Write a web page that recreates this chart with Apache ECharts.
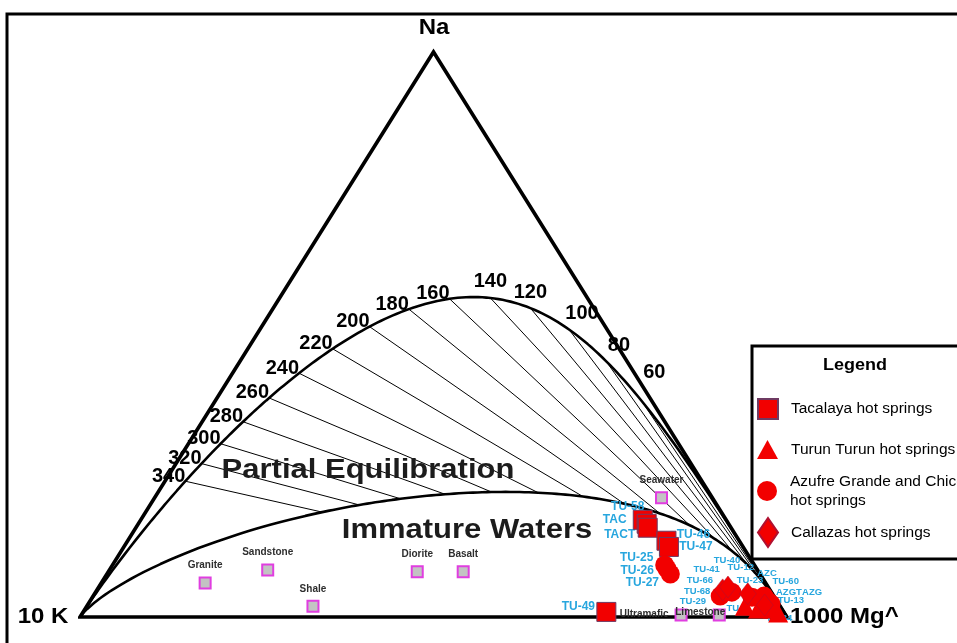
<!DOCTYPE html>
<html>
<head>
<meta charset="utf-8">
<script src="https://cdn.jsdelivr.net/npm/echarts@6/dist/echarts.min.js"></script>
<style>
  html, body { margin: 0; padding: 0; background: #fff; }
  #chart { width: 957px; height: 643px; }
</style>
</head>
<body>
<div id="chart"></div>
<script>
// Relative composition in % of Na/1000, K/100 and sqrt(Mg)

// Isotherms labelled along the full-equilibrium line (°C)
const isothermTemps = [340, 320, 300, 280, 260, 240, 220, 200, 180, 160, 140, 120, 100, 80, 60];

// Tacalaya hot springs
const tacalayaNames = ['TU-58', 'TAC', 'TACT', 'TU-46', 'TU-47', 'TU-49'];
const tacalayaNa = [17.2, 16.5, 15.8, 13.5, 12.4, 0.9];
const tacalayaK  = [11.8, 11.6, 11.8, 10.3, 10.5, 25.1];
const tacalayaMg = [71.0, 71.9, 72.4, 76.2, 77.1, 74.0];

// Turun Turun hot springs
const turunNames = ['TU-29', 'TU-3', 'TU-13', 'TU-34'];
const turunNa = [1.9, 1.4, 1.4, 0.7];
const turunK  = [5.0, 3.4, 1.3, 0.9];
const turunMg = [93.1, 95.2, 97.3, 98.4];

// Azufre Grande and Chico hot springs
const azufreNames = ['TU-25', 'TU-26', 'TU-27', 'TU-68', 'TU-66', 'TU-23', 'AZC', 'AZGT', 'AZG'];
const azufreNa = [9.2, 8.5, 7.6, 3.7, 4.4, 3.5, 3.7, 2.8, 2.3];
const azufreK  = [12.7, 12.7, 12.7, 7.6, 5.6, 3.2, 1.4, 1.3, 1.1];
const azufreMg = [78.1, 78.8, 79.7, 88.7, 90.0, 93.3, 94.9, 95.9, 96.6];

// Callazas hot springs
const callazasNames = ['TU-41', 'TU-40', 'TU-12', 'TU-60'];
const callazasNa = [4.8, 5.3, 4.1, 2.1];
const callazasK  = [6.7, 5.7, 3.5, 2.1];
const callazasMg = [88.5, 89.0, 92.4, 95.8];

// Reference rocks and seawater
const rockNames = ['Granite', 'Sandstone', 'Shale', 'Diorite', 'Basalt', 'Seawater', 'Ultramafic', 'Limestone'];
const rockNa = [6.0, 8.3, 1.9, 8.0, 8.0, 21.1, 0.35, 0.35];
const rockK  = [79.3, 69.3, 66.1, 48.3, 41.8, 7.2, 14.8, 9.4];
const rockMg = [14.7, 22.4, 32.0, 43.7, 50.2, 71.7, 84.8, 90.2];

// ---------------------------------------------------------------------------
// Layout (pixels) — plot area of the triangle
const GRID = { left: 80, right: 170, top: 52, bottom: 26 };
const W = 957, H = 643;
const PX_W = W - GRID.left - GRID.right;   // width of base
const PX_H = H - GRID.top - GRID.bottom;   // height of triangle

// Sample label placement, relative to the marker centre (px)
const sampleLabelOffset = {
  'TU-58': [-15, -13], 'TAC': [-32, -4], 'TACT': [-28, 7], 'TU-46': [27, -6], 'TU-47': [27, 0],
  'TU-49': [-28, -5], 'TU-25': [-28, -7], 'TU-26': [-30, 2], 'TU-27': [-28, 9],
  'TU-68': [-23, -5], 'TU-66': [-32, -12], 'TU-41': [-16, -21], 'TU-40': [-1, -27],
  'TU-12': [-7, -26], 'TU-23': [-2, -17], 'AZC': [3, -23], 'TU-60': [21, -24],
  'AZGT': [21, -9], 'AZG': [41, -12], 'TU-29': [-52, -5], 'TU-3': [-21, -1],
  'TU-13': [18, -9], 'TU-34': [1, 5]
};
const smallLabels = new Set(['TU-68', 'TU-66', 'TU-41', 'TU-40', 'TU-12', 'TU-23', 'AZC', 'TU-60',
  'AZGT', 'AZG', 'TU-29', 'TU-3', 'TU-13', 'TU-34']);
// extra nudge for isotherm labels squeezed against the Na–Mg side
const isothermLabelNudge = { 60: [0, -12] };

const FONT = "'Liberation Sans', Arial, sans-serif";
const RED = '#f20000';
const CYAN = '#27a6de';

// ternary -> cartesian (x: 0..100 along base K→Mg, y: 0..100 toward Na apex)
function ternaryXY(na, k, mg) {
  const s = na + k + mg;
  return [100 * (mg + na / 2) / s, 100 * na / s];
}
function toPx(p) { return [GRID.left + p[0] / 100 * PX_W, H - GRID.bottom - p[1] / 100 * PX_H]; }

// Giggenbach (1988) geothermometers
function naKRatio(t) { return Math.pow(10, 1390 / (t + 273.15) - 1.75); }    // Na/K
function k2MgRatio(t) { return Math.pow(10, 14.0 - 4410 / (t + 273.15)); }   // K^2/Mg
function fromRatios(naK, k2mg) {
  const na = 1000, k = na / naK, mg = k * k / k2mg;
  return ternaryXY(na / 1000, k / 100, Math.sqrt(mg));
}
function fullEquilibrium(t) { return fromRatios(naKRatio(t), k2MgRatio(t)); }
// boundary of immature waters: maturity index 0.315·log(K²/Mg) − log(K/Na) = 2.0
function immatureBoundary(t) {
  const naK = naKRatio(t);
  const lkn = -Math.log10(naK);
  return fromRatios(naK, Math.pow(10, (2.0 + lkn) / 0.315));
}

const cornerK = ternaryXY(0, 100, 0);
const cornerMg = ternaryXY(0, 0, 100);
const cornerNa = ternaryXY(100, 0, 0);
const baseMid = [(cornerK[0] + cornerMg[0]) / 2, 0];

// temperatures used to trace the two curves
const traceTemps = [];
for (let t = 6000; t > 1000; t -= 250) traceTemps.push(t);
for (let t = 1000; t > 400; t -= 20) traceTemps.push(t);
for (let t = 400; t >= -10; t -= 2) traceTemps.push(t);

const fullEqLine = [cornerK].concat(traceTemps.map(fullEquilibrium), [cornerMg]);
const immatureLine = [cornerK].concat(traceTemps.map(immatureBoundary), [cornerMg]);

// isotherm tie lines and their labels
const tieLines = isothermTemps.map(t => ({ coords: [fullEquilibrium(t), immatureBoundary(t)] }));
const isothermLabels = isothermTemps.map(t => {
  const a = toPx(fullEquilibrium(t + 5)), b = toPx(fullEquilibrium(t - 5));
  const slope = (b[1] - a[1]) / (b[0] - a[0]);
  let label;
  if (slope < -0.05) label = { position: 'left', offset: [5, -5] };
  else if (slope <= 0.5) label = { position: 'top', offset: [0, -1] };
  else label = { position: 'top', offset: [13, -1] };
  const nudge = isothermLabelNudge[t];
  if (nudge) label.offset = [label.offset[0] + nudge[0], label.offset[1] + nudge[1]];
  return { name: String(t), value: fullEquilibrium(t), label };
});

function points(names, na, k, mg) {
  return names.map((n, i) => ({ name: n, value: ternaryXY(na[i], k[i], mg[i]) }));
}
const tacalaya = points(tacalayaNames, tacalayaNa, tacalayaK, tacalayaMg);
const turun = points(turunNames, turunNa, turunK, turunMg);
const azufre = points(azufreNames, azufreNa, azufreK, azufreMg);
const callazas = points(callazasNames, callazasNa, callazasK, callazasMg);
const rocks = points(rockNames, rockNa, rockK, rockMg).map(d => {
  let label = { position: 'top', offset: [0, -1] };
  if (d.name === 'Ultramafic') label = { position: 'left', distance: 6, offset: [0, -1] };
  if (d.name === 'Limestone') label = { position: 'inside', offset: [-19, -3] };
  return Object.assign(d, { label });
});

const sampleLabels = [].concat(tacalaya, turun, azufre, callazas).map(d => ({
  name: d.name,
  value: d.value,
  label: {
    offset: sampleLabelOffset[d.name] || [0, 0],
    fontSize: smallLabels.has(d.name) ? 9.5 : 12
  }
}));

const S_TAC = 'Tacalaya hot springs';
const S_TUR = 'Turun Turun hot springs';
const S_AZU = 'Azufre Grande and Chico hot springs';
const S_CAL = 'Callazas hot springs';

function legendBlock(name, icon, top, w, h, formatter) {
  return {
    data: [{ name, icon }], left: 752, top, orient: 'vertical',
    itemWidth: w, itemHeight: h, selectedMode: false, z: 30,
    formatter: formatter || '{name}',
    textStyle: { fontFamily: FONT, fontSize: 15.5, color: '#000', lineHeight: 19, padding: [0, 0, 0, 8] }
  };
}

const option = {
  animation: false,
  backgroundColor: '#fff',
  grid: GRID,
  xAxis: { type: 'value', min: 0, max: 100, show: false },
  yAxis: { type: 'value', min: 0, max: 100, show: false },
  legend: [
    legendBlock(S_TAC, 'rect', 393, 20, 20),
    legendBlock(S_TUR, 'triangle', 435, 21, 19),
    legendBlock(S_AZU, 'circle', 467, 20, 20, () => 'Azufre Grande and Chico\nhot springs'),
    legendBlock(S_CAL, 'diamond', 512, 20, 29)
  ],
  graphic: [
    { type: 'rect', z: 1, shape: { x: 7, y: 14, width: 1000, height: 700 },
      style: { fill: 'none', stroke: '#000', lineWidth: 3 } },
    { type: 'rect', z: 20, shape: { x: 752, y: 346, width: 300, height: 213 },
      style: { fill: '#fff', stroke: '#000', lineWidth: 3 } },
    { type: 'text', z: 25, x: 855, y: 365, scaleY: 0.92,
      style: { text: 'Legend', font: 'bold 18px ' + FONT, fill: '#000', textAlign: 'center', textVerticalAlign: 'middle' } },
    { type: 'text', z: 25, x: 434, y: 28, scaleY: 0.92,
      style: { text: 'Na', font: 'bold 24px ' + FONT, fill: '#000', textAlign: 'center', textVerticalAlign: 'middle' } },
    { type: 'text', z: 25, x: 43, y: 617, scaleY: 0.92,
      style: { text: '10 K', font: 'bold 24px ' + FONT, fill: '#000', textAlign: 'center', textVerticalAlign: 'middle' } },
    { type: 'text', z: 25, x: 790, y: 617, scaleY: 0.92,
      style: { text: '1000 Mg^', font: 'bold 24px ' + FONT, fill: '#000', textAlign: 'left', textVerticalAlign: 'middle' } },
    { type: 'text', z: 25, x: 368, y: 470, scaleY: 0.9,
      style: { text: 'Partial Equilibration', font: 'bold 31px ' + FONT, fill: '#1c1c1c', textAlign: 'center', textVerticalAlign: 'middle' } },
    { type: 'text', z: 25, x: 467, y: 530, scaleY: 0.9,
      style: { text: 'Immature Waters', font: 'bold 31px ' + FONT, fill: '#1c1c1c', textAlign: 'center', textVerticalAlign: 'middle' } }
  ],
  series: [
    { type: 'lines', coordinateSystem: 'cartesian2d', silent: true, z: 2,
      lineStyle: { color: '#000', width: 1, opacity: 1 }, data: tieLines },
    { type: 'line', silent: true, z: 3, clip: false, showSymbol: false, symbol: 'none',
      lineStyle: { color: '#000', width: 2.6 }, data: fullEqLine },
    { type: 'line', silent: true, z: 3, clip: false, showSymbol: false, symbol: 'none',
      lineStyle: { color: '#000', width: 2.6 }, data: immatureLine },
    { type: 'line', silent: true, z: 4, clip: false, showSymbol: false, symbol: 'none',
      lineStyle: { color: '#000', width: 3.6, join: 'miter', miterLimit: 10 },
      data: [baseMid, cornerMg, cornerNa, cornerK, baseMid] },
    { type: 'scatter', name: 'isotherms', silent: true, z: 6, symbolSize: 0,
      itemStyle: { opacity: 1 },
      label: { show: true, formatter: '{b}', fontFamily: FONT, fontWeight: 'bold', fontSize: 20, color: '#000' },
      data: isothermLabels },
    { type: 'scatter', name: 'rocks', silent: true, z: 7, symbol: 'rect', symbolSize: 11,
      itemStyle: { color: '#c3c3c3', borderColor: '#e03ee0', borderWidth: 2, opacity: 1 },
      label: { show: true, formatter: '{b}', fontFamily: FONT, fontWeight: 'bold', fontSize: 10, color: '#2e2e2e' },
      data: rocks },
    { type: 'scatter', name: 'sample labels', silent: true, z: 8, symbolSize: 0,
      itemStyle: { opacity: 1 },
      label: { show: true, position: 'inside', formatter: '{b}', fontFamily: FONT, fontWeight: 'bold', color: CYAN },
      data: sampleLabels },
    { type: 'scatter', name: S_TAC, z: 10, symbol: 'rect', symbolSize: 19,
      itemStyle: { color: RED, borderColor: '#6e3a62', borderWidth: 1, opacity: 1 }, data: tacalaya },
    { type: 'scatter', name: S_TUR, z: 10, symbol: 'triangle', symbolSize: [20, 19],
      itemStyle: { color: RED, opacity: 1 }, data: turun },
    { type: 'scatter', name: S_AZU, z: 10, symbol: 'circle', symbolSize: 19,
      itemStyle: { color: RED, opacity: 1 }, data: azufre },
    { type: 'scatter', name: S_CAL, z: 10, symbol: 'diamond', symbolSize: [17, 22],
      itemStyle: { color: RED, borderColor: '#b01030', borderWidth: 0.5, opacity: 1 }, data: callazas }
  ]
};

const chart = echarts.init(document.getElementById('chart'));
chart.setOption(option);
</script>
</body>
</html>
